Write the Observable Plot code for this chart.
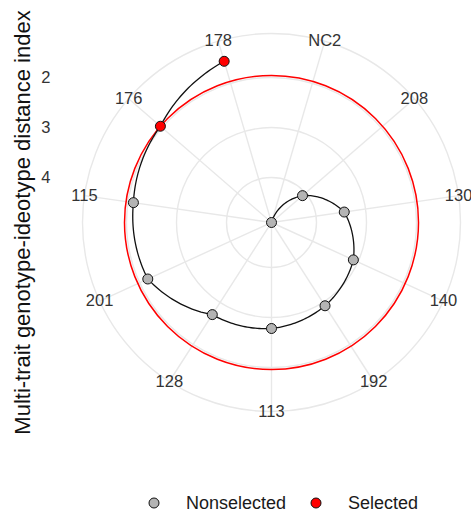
<!DOCTYPE html>
<html>
<head>
<meta charset="utf-8">
<script src="https://cdn.jsdelivr.net/npm/d3@7"></script>
<script src="https://cdn.jsdelivr.net/npm/@observablehq/plot@0.6"></script>
<style>
  html, body { margin: 0; padding: 0; background: #fff; }
  body { width: 471px; height: 512px; overflow: hidden; font-family: Arial, "Liberation Sans", sans-serif; }
  #legend { display: flex; align-items: center; height: 26px; padding-left: 148px; font-size: 18px; color: #1a1a1a; }
  #legend svg { display: block; }
  #legend .lab { margin-left: 26px; }
  #legend .gap { margin-left: 24px; }
</style>
</head>
<body>
<div id="chart"></div>
<div id="legend"></div>
<script>
// ---- data (ordered clockwise from the top) ----
const genotypes = ["NC2", "208", "130", "140", "192", "113", "128", "201", "115", "176", "178"];
const mgidi     = [4.90, 4.08, 3.43, 3.10, 2.92, 2.78, 2.71, 2.18, 2.11, 1.96, 1.54];
const status    = ["Nonselected", "Nonselected", "Nonselected", "Nonselected", "Nonselected",
                   "Nonselected", "Nonselected", "Nonselected", "Nonselected", "Selected", "Selected"];
const radialTicks = [2, 3, 4];
const statusLevels = ["Nonselected", "Selected"];
const statusColors = ["#b4b4b4", "#ff0000"];
const axisTitle = "Multi-trait genotype-ideotype distance index";

// ---- polar geometry (ggplot coord_polar conventions) ----
const n = genotypes.length;
const vMax = d3.max(mgidi), vMin = d3.min(mgidi);
const rad = v => vMax - v;                 // reversed radial axis
const rMax = vMax - vMin;                  // data range -> 0.40 of panel
const rOuter = rMax * 0.45 / 0.40;         // outer circle at 0.45
const half = rMax * 0.5 / 0.40;            // panel half-size
const thetaOf = i => (i + 0.5) / n * 2 * Math.PI;
const cutoff = d3.max(mgidi.filter((v, i) => status[i] === "Selected"));

const data = genotypes.map((g, i) => ({
  genotype: g, mgidi: mgidi[i], status: status[i], theta: thetaOf(i)
}));
const px = (r, t) => r * Math.sin(t);
const py = (r, t) => r * Math.cos(t);

// layout
const W = 471, H = 490;
const panelLeft = 61, panelTop = 12, panelSize = 420;
const cx = panelLeft + panelSize / 2, cy = panelTop + panelSize / 2;

// line drawn like ggplot's polar munching: linear in (theta, r)
const thetas = data.map(d => d.theta);
function polarCurve(context) {
  let pts = [];
  return {
    areaStart() {}, areaEnd() {},
    lineStart() { pts = []; },
    point(x, y) { pts.push([+x, +y]); },
    lineEnd() {
      if (!pts.length) return;
      const rho = pts.map(([x, y]) => Math.hypot(x - cx, y - cy));
      context.moveTo(pts[0][0], pts[0][1]);
      for (let i = 1; i < pts.length; ++i) {
        const t0 = thetas[i - 1], t1 = thetas[i], r0 = rho[i - 1], r1 = rho[i];
        const steps = 30;
        for (let s = 1; s <= steps; ++s) {
          const f = s / steps;
          const t = t0 + f * (t1 - t0), r = r0 + f * (r1 - r0);
          context.lineTo(cx + r * Math.sin(t), cy - r * Math.cos(t));
        }
      }
    }
  };
}

const gridColor = "#e8e8e8";
const textColor = "#333333";
const chart = Plot.plot({
  width: W,
  height: H,
  marginLeft: panelLeft,
  marginTop: panelTop,
  marginRight: 0,
  marginBottom: H - panelTop - panelSize,
  style: { fontFamily: "Arial, 'Liberation Sans', sans-serif", background: "#fff", overflow: "visible" },
  x: { domain: [-half, half], range: [panelLeft, panelLeft + panelSize], axis: null },
  y: { domain: [-half, half], range: [panelTop + panelSize, panelTop], axis: null },
  r: { type: "linear", domain: [0, half], range: [0, panelSize / 2] },
  color: { domain: statusLevels, range: statusColors },
  marks: [
    // radial grid circles + outer circle
    Plot.dot(radialTicks.map(rad).concat([rOuter]), {
      x: () => 0, y: () => 0, r: d => d, fill: "none", stroke: gridColor, strokeWidth: 1.4
    }),
    // spokes
    Plot.link(data, {
      x1: () => 0, y1: () => 0,
      x2: d => px(rOuter, d.theta), y2: d => py(rOuter, d.theta),
      stroke: gridColor, strokeWidth: 1.4
    }),
    // selection cutoff circle
    Plot.dot([cutoff], {
      x: () => 0, y: () => 0, r: v => rad(v), fill: "none", stroke: "#ff0000", strokeWidth: 1.5
    }),
    // path
    Plot.line(data, {
      x: d => px(rad(d.mgidi), d.theta), y: d => py(rad(d.mgidi), d.theta),
      stroke: "#111", strokeWidth: 1.3, curve: polarCurve
    }),
    // points
    Plot.dot(data, {
      x: d => px(rad(d.mgidi), d.theta), y: d => py(rad(d.mgidi), d.theta),
      r: 5, fill: "status", stroke: "#111", strokeWidth: 1
    }),
    // theta labels
    Plot.text(data, {
      x: d => px(rOuter, d.theta), y: d => py(rOuter, d.theta),
      text: "genotype", fontSize: 16.5, fill: textColor
    }),
    // radial axis
    Plot.axisY(radialTicks.map(rad), {
      anchor: "left", tickSize: 0, tickPadding: 11, fontSize: 16.5, color: textColor,
      tickFormat: r => String(Math.round(vMax - r)), label: null
    }),
    // axis title
    Plot.text([axisTitle], {
      frameAnchor: "left", textAnchor: "middle", lineAnchor: "middle",
      rotate: -90, dx: -39, fontSize: 22, fill: "#111"
    })
  ]
});
document.getElementById("chart").append(chart);

// legend
const legend = document.getElementById("legend");
statusLevels.forEach((s, i) => {
  const sw = document.createElementNS("http://www.w3.org/2000/svg", "svg");
  sw.setAttribute("width", 12); sw.setAttribute("height", 12);
  if (i > 0) sw.setAttribute("class", "gap");
  const c = document.createElementNS("http://www.w3.org/2000/svg", "circle");
  c.setAttribute("cx", 6); c.setAttribute("cy", 6); c.setAttribute("r", 5);
  c.setAttribute("fill", statusColors[i]); c.setAttribute("stroke", "#111");
  sw.append(c);
  const t = document.createElement("span");
  t.className = "lab"; t.textContent = s;
  legend.append(sw, t);
});
</script>
</body>
</html>
